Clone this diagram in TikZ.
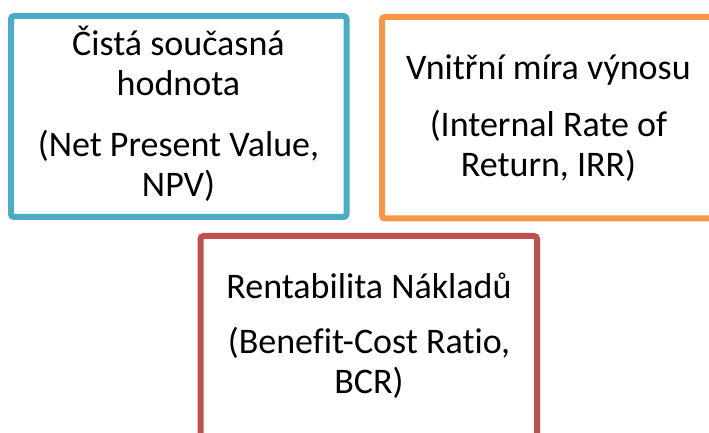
\documentclass[tikz,border=0pt]{standalone}
\usepackage{fontspec}
\setmainfont[Ligatures={NoCommon}]{Carlito}
\definecolor{npvblue}{HTML}{4BACC6}
\definecolor{irrorange}{HTML}{F79646}
\definecolor{bcrred}{HTML}{C0504D}
\begin{document}
\begin{tikzpicture}[x=1bp,y=-1bp,
  frame/.style={draw=#1,line width=6bp,rounded corners=3bp},
  label/.style={align=center,inner sep=0pt,anchor=base,
    font=\fontsize{36bp}{40bp}\selectfont}]
  \useasboundingbox (0,0) rectangle (709,433);
  % method boxes
  \draw[frame=npvblue] (11,16) rectangle (346.5,217);
  \draw[frame=irrorange] (382,17) rectangle (715,218.5);
  \draw[frame=bcrred] (200.5,236) rectangle (537,437);
  % captions, placed by the baseline of their last line
  \node[label] (npv) at (178.5,197) {Čistá současná\\hodnota\\[21bp](Net Present Value,\\NPV)};
  \node[label] (irr) at (548.5,177) {Vnitřní míra výnosu\\[17bp](Internal Rate of\\Return, IRR)};
  \node[label] (bcr) at (369,393) {Rentabilita Nákladů\\[15bp](Benefit-Cost Ratio,\\BCR)};
\end{tikzpicture}
\end{document}
